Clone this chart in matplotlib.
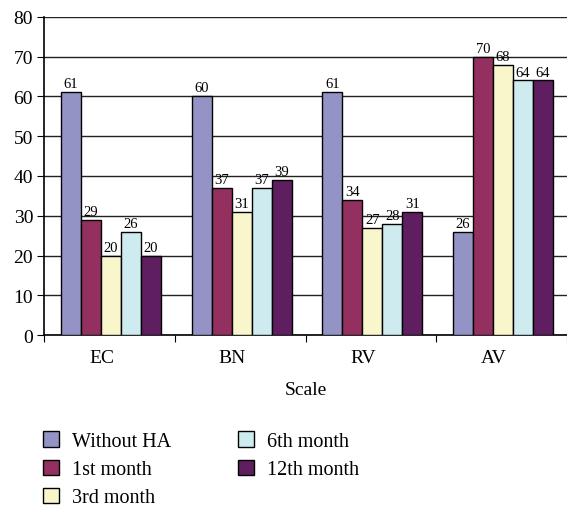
import numpy as np
import matplotlib.pyplot as plt

plt.rcParams['font.family'] = ['Liberation Serif', 'DejaVu Serif']

scales = ['EC', 'BN', 'RV', 'AV']
series = ['Without HA', '1st month', '3rd month', '6th month', '12th month']
without_ha = [61, 60, 61, 26]
month_1 = [29, 37, 34, 70]
month_3 = [20, 31, 27, 68]
month_6 = [26, 37, 28, 64]
month_12 = [20, 39, 31, 64]
colors = ['#9393C6', '#93305F', '#FAF6CC', '#CEEBEF', '#5F1E5F']

fig = plt.figure(figsize=(5.67, 5.1), dpi=100)
ax = fig.add_axes([0.078, 0.341, 0.922, 0.624])

x = np.arange(len(scales))
w = 0.153
for i, (vals, name) in enumerate(zip([without_ha, month_1, month_3, month_6, month_12], series)):
    pos = x + (i - 2) * w + 0.01
    bars = ax.bar(pos, vals, w, color=colors[i], edgecolor='black', linewidth=1,
                  label=name, zorder=3)
    for b, v in zip(bars, vals):
        ax.text(b.get_x() + b.get_width() / 2, v + 0.5, str(v),
                ha='center', va='bottom', fontsize=10.5, zorder=4)

ax.set_ylim(0, 80)
ax.set_xlim(-0.5, 3.5)
ax.set_yticks(range(0, 81, 10))
ax.yaxis.grid(True, color='#222222', linewidth=1)
ax.set_axisbelow(True)
for s in ['top', 'right']:
    ax.spines[s].set_visible(False)
ax.spines['left'].set_linewidth(1.2)
ax.spines['bottom'].set_linewidth(1.2)

ax.set_xticks(np.arange(-0.5, 4, 1))
ax.set_xticklabels([])
ax.set_xticks(x - 0.06, minor=True)
ax.set_xticklabels(scales, minor=True, fontsize=14)
ax.tick_params(axis='x', which='minor', length=0, pad=10)
ax.tick_params(axis='x', which='major', length=5, direction='out')
ax.tick_params(axis='y', length=5, labelsize=14, pad=3)
ax.set_xlabel('Scale', fontsize=14, labelpad=11)

fig.legend(loc='upper left', bbox_to_anchor=(0.062, 0.168), ncol=2, frameon=False,
           fontsize=14.5, handlelength=0.8, handleheight=0.8, handletextpad=0.65,
           columnspacing=3.3, labelspacing=0.42, borderaxespad=0)

fig.savefig('out.png', dpi=100)
